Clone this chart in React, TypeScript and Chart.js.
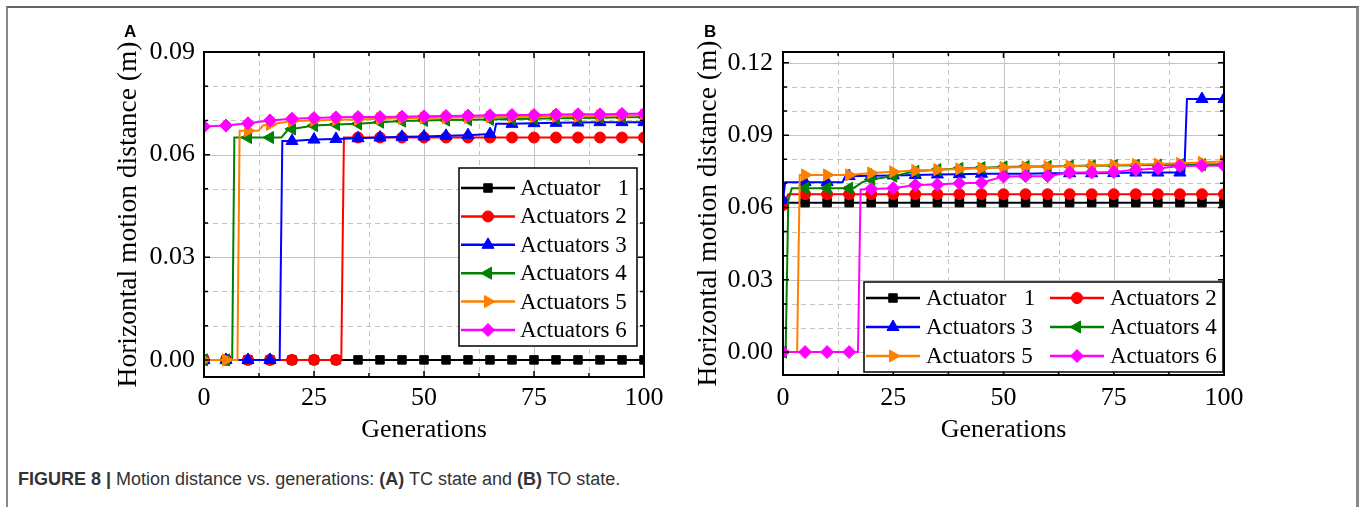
import React, { useEffect, useRef } from 'react';
import { Chart, registerables } from 'chart.js';
import { drawPoint, toFont } from 'chart.js/helpers';

Chart.register(...registerables);

// ---------------- data ----------------
const generations = [0, 5, 10, 15, 20, 25, 30, 35, 40, 45, 50, 55, 60, 65, 70, 75, 80, 85, 90, 95, 100];
const xTickLabels = [0, 25, 50, 75, 100];
const yTicksA = [0, 0.03, 0.06, 0.09];
const yTicksB = [0, 0.03, 0.06, 0.09, 0.12];
const seriesNames = ['Actuator   1', 'Actuators 2', 'Actuators 3', 'Actuators 4', 'Actuators 5', 'Actuators 6'];

// Panel A (TC state): values at the marked generations
const tcAct1 = [0, 0, 0, 0, 0, 0, 0, 0, 0, 0, 0, 0, 0, 0, 0, 0, 0, 0, 0, 0, 0];
const tcAct2 = [0, 0, 0, 0, 0, 0, 0, 0.065, 0.065, 0.065, 0.065, 0.065, 0.065, 0.065, 0.065, 0.065, 0.065, 0.065, 0.065, 0.065, 0.065];
const tcAct3 = [0, 0, 0, 0, 0.064, 0.0644, 0.0646, 0.0648, 0.065, 0.0652, 0.0653, 0.0655, 0.0657, 0.066, 0.069, 0.0692, 0.0693, 0.0694, 0.0695, 0.0695, 0.0695];
const tcAct4 = [0, 0, 0.065, 0.065, 0.0675, 0.0685, 0.0688, 0.069, 0.0695, 0.0698, 0.07, 0.0701, 0.0702, 0.0703, 0.0704, 0.0705, 0.0706, 0.0707, 0.0708, 0.0709, 0.071];
const tcAct5 = [0, 0, 0.067, 0.0688, 0.0698, 0.07, 0.0702, 0.0703, 0.0705, 0.0706, 0.0707, 0.0708, 0.0709, 0.071, 0.071, 0.0711, 0.0712, 0.0712, 0.0713, 0.0714, 0.0715];
const tcAct6 = [0.0682, 0.0685, 0.0692, 0.07, 0.0705, 0.0707, 0.0709, 0.071, 0.071, 0.0711, 0.0712, 0.0713, 0.0714, 0.0715, 0.0716, 0.0716, 0.0717, 0.0718, 0.0718, 0.0719, 0.072];
// Panel A: step corners between marked generations [generation, value]
const tcAct1Steps: [number, number][] = [];
const tcAct2Steps: [number, number][] = [[31.2, 0], [31.8, 0.065]];
const tcAct3Steps: [number, number][] = [[17.2, 0], [17.8, 0.064], [65.9, 0.066], [66.4, 0.069]];
const tcAct4Steps: [number, number][] = [[6.4, 0], [6.9, 0.065], [17.6, 0.065], [19, 0.0672]];
const tcAct5Steps: [number, number][] = [[7.6, 0], [8.1, 0.067], [12.4, 0.067], [13.4, 0.0685]];
const tcAct6Steps: [number, number][] = [];

// Panel B (TO state): values at the marked generations
const toAct1 = [0.062, 0.062, 0.062, 0.062, 0.062, 0.062, 0.062, 0.062, 0.062, 0.062, 0.062, 0.062, 0.062, 0.062, 0.062, 0.062, 0.062, 0.062, 0.062, 0.062, 0.062];
const toAct2 = [0.061, 0.0655, 0.0655, 0.0655, 0.0655, 0.0655, 0.0655, 0.0655, 0.0655, 0.0655, 0.0655, 0.0655, 0.0655, 0.0655, 0.0655, 0.0655, 0.0655, 0.0655, 0.0655, 0.0655, 0.0655];
const toAct3 = [0.063, 0.0705, 0.0705, 0.073, 0.0732, 0.0733, 0.0735, 0.0737, 0.0738, 0.074, 0.074, 0.074, 0.0742, 0.0742, 0.0742, 0.0743, 0.0745, 0.0745, 0.0745, 0.105, 0.105];
const toAct4 = [0, 0.068, 0.068, 0.068, 0.0716, 0.073, 0.075, 0.0757, 0.0762, 0.0765, 0.0768, 0.077, 0.077, 0.0772, 0.0773, 0.0774, 0.0775, 0.0776, 0.0777, 0.0778, 0.0779];
const toAct5 = [0, 0.0735, 0.0735, 0.0735, 0.0743, 0.0748, 0.0753, 0.0757, 0.076, 0.0763, 0.0766, 0.0768, 0.077, 0.0772, 0.0774, 0.0776, 0.0778, 0.078, 0.0783, 0.0787, 0.0792];
const toAct6 = [0, 0, 0, 0, 0.0677, 0.068, 0.0693, 0.0695, 0.07, 0.0703, 0.0728, 0.073, 0.073, 0.0745, 0.0745, 0.0747, 0.0757, 0.0762, 0.0772, 0.0773, 0.0773];
// Panel B: step corners
const toAct1Steps: [number, number][] = [];
const toAct2Steps: [number, number][] = [[1.2, 0.0655]];
const toAct3Steps: [number, number][] = [[0.5, 0.0705], [13.5, 0.0705], [14.2, 0.073], [91, 0.0745], [91.6, 0.105]];
const toAct4Steps: [number, number][] = [[0.6, 0], [1.2, 0.063], [2, 0.068], [16, 0.068], [18, 0.0705]];
const toAct5Steps: [number, number][] = [[3.2, 0], [3.8, 0.0735]];
const toAct6Steps: [number, number][] = [[17, 0], [17.6, 0.0675]];

// ---------------- styles ----------------
const colors = ['#000000', '#ff0000', '#0000ff', '#008000', '#ff8000', '#ff00ff'];
const markerStyles = ['rect', 'circle', 'triangle', 'triangle', 'triangle', 'rectRot'];
const markerRotations = [0, 0, 0, -90, 90, 0];
const markerRadii = [6, 5.5, 7, 7, 7, 6.5];
const SERIF = "'Liberation Serif', 'Times New Roman', serif";

type Pt = { x: number; y: number; m: boolean };
function buildSeries(vals: number[], steps: [number, number][]): Pt[] {
  const pts: Pt[] = generations.map((g, i) => ({ x: g, y: vals[i], m: true }));
  steps.forEach(([g, v]) => pts.push({ x: g, y: v, m: false }));
  pts.sort((a, b) => a.x - b.x);
  return pts;
}

function minorValues(majors: number[], div: number, lo: number, hi: number): number[] {
  const step = (majors[1] - majors[0]) / div;
  const out: number[] = [];
  for (let i = 0; i < majors.length; i++) {
    for (let k = 1; k < div; k++) {
      const v = majors[i] + k * step;
      if (v > lo && v < hi) out.push(v);
    }
  }
  return out;
}

const gridPlugin = {
  id: 'frameGrid',
  beforeDatasetsDraw(chart: any, _a: any, opts: any) {
    const { ctx, chartArea: a, scales } = chart;
    const x = scales.x, y = scales.y;
    ctx.save();
    ctx.lineWidth = 1;
    ctx.strokeStyle = '#c4c4c4';
    const vline = (v: number) => {
      const px = Math.round(x.getPixelForValue(v)) + 0.5;
      ctx.beginPath(); ctx.moveTo(px, a.top); ctx.lineTo(px, a.bottom); ctx.stroke();
    };
    const hline = (v: number) => {
      const py = Math.round(y.getPixelForValue(v)) + 0.5;
      ctx.beginPath(); ctx.moveTo(a.left, py); ctx.lineTo(a.right, py); ctx.stroke();
    };
    ctx.setLineDash([5, 4]);
    opts.xMinor.forEach(vline);
    opts.yMinor.forEach(hline);
    ctx.setLineDash([]);
    opts.xMajor.forEach(vline);
    opts.yMajor.forEach(hline);
    ctx.restore();
  },
  afterDatasetsDraw(chart: any, _a: any, opts: any) {
    const { ctx, chartArea: a, scales } = chart;
    const x = scales.x, y = scales.y;
    ctx.save();
    ctx.strokeStyle = '#000';
    ctx.lineWidth = 2;
    ctx.strokeRect(a.left, a.top, a.right - a.left, a.bottom - a.top);
    ctx.lineWidth = 1.5;
    const tickX = (v: number, len: number) => {
      const px = x.getPixelForValue(v);
      ctx.beginPath(); ctx.moveTo(px, a.bottom); ctx.lineTo(px, a.bottom - len);
      ctx.moveTo(px, a.top); ctx.lineTo(px, a.top + len); ctx.stroke();
    };
    const tickY = (v: number, len: number) => {
      const py = y.getPixelForValue(v);
      ctx.beginPath(); ctx.moveTo(a.left, py); ctx.lineTo(a.left + len, py);
      ctx.moveTo(a.right, py); ctx.lineTo(a.right - len, py); ctx.stroke();
    };
    opts.xMajor.forEach((v: number) => tickX(v, 6));
    opts.xMinor.forEach((v: number) => tickX(v, 4));
    opts.yMajor.forEach((v: number) => tickY(v, 6));
    opts.yMinor.forEach((v: number) => tickY(v, 4));

    // legend
    const L = opts.legend;
    ctx.fillStyle = '#fff';
    ctx.fillRect(L.x, L.y, L.w, L.h);
    ctx.strokeStyle = '#000';
    ctx.lineWidth = 1.5;
    ctx.strokeRect(L.x, L.y, L.w, L.h);
    const legendFont = toFont({ family: SERIF, size: 23 } as any).string;
    seriesNames.forEach((name, i) => {
      const col = i % L.cols;
      const row = Math.floor(i / L.cols);
      const cx = L.x + col * L.colW;
      const cy = L.y + L.firstRow + row * L.rowH;
      ctx.strokeStyle = colors[i];
      ctx.fillStyle = colors[i];
      ctx.lineWidth = 2.5;
      ctx.beginPath();
      ctx.moveTo(cx + L.lineStart, cy);
      ctx.lineTo(cx + L.lineStart + L.lineLen, cy);
      ctx.stroke();
      ctx.lineWidth = 1;
      drawPoint(ctx, { pointStyle: markerStyles[i], rotation: markerRotations[i], radius: markerRadii[i], borderWidth: 1 } as any,
        cx + L.lineStart + L.lineLen / 2, cy);
      ctx.fillStyle = '#000';
      ctx.font = legendFont;
      ctx.textBaseline = 'middle';
      ctx.textAlign = 'left';
      ctx.fillText(name, cx + L.textX, cy + 1);
    });
    ctx.restore();
  },
};

type PanelCfg = {
  series: number[][];
  steps: [number, number][][];
  yMin: number;
  yMax: number;
  yTicks: number[];
  area: { left: number; right: number; top: number; bottom: number };
  yTitleCenter: number;
  yLabelRight: number;
  xLabelCenter: number;
  xTitleCenter: number;
  legend: any;
};

const CW = 680;
const CH = 450;

function Panel({ cfg, left }: { cfg: PanelCfg; left: number }) {
  const ref = useRef<HTMLCanvasElement | null>(null);
  useEffect(() => {
    const font = { family: SERIF, size: 26, lineHeight: 1 };
    const titleFont = { family: SERIF, size: 27.5, lineHeight: 1 };
    const a = cfg.area;
    const xMinor = minorValues(xTickLabels, 2, 0, 100);
    const yMinor = minorValues(cfg.yTicks, 3, cfg.yMin, cfg.yMax);
    const datasets = cfg.series.map((vals, i) => ({
      label: seriesNames[i],
      data: buildSeries(vals, cfg.steps[i]),
      borderColor: colors[i],
      backgroundColor: colors[i],
      borderWidth: 2,
      tension: 0,
      pointStyle: markerStyles[i],
      pointRotation: markerRotations[i],
      pointRadius: (c: any) => (c.raw && c.raw.m ? markerRadii[i] : 0),
      pointBorderWidth: 1,
      pointBackgroundColor: colors[i],
      pointBorderColor: colors[i],
      order: 5 - i,
      clip: 0,
    }));
    const chart = new Chart(ref.current as HTMLCanvasElement, {
      type: 'line',
      data: { datasets } as any,
      plugins: [gridPlugin as any],
      options: {
        responsive: false,
        animation: false,
        devicePixelRatio: 1,
        events: [],
        layout: { padding: { left: 0, top: a.top, right: CW - a.right, bottom: 0 } },
        plugins: {
          legend: { display: false },
          tooltip: { enabled: false },
          frameGrid: { xMajor: xTickLabels, xMinor, yMajor: cfg.yTicks, yMinor, legend: cfg.legend },
        } as any,
        scales: {
          x: {
            type: 'linear',
            min: 0,
            max: 100,
            afterBuildTicks: (s: any) => { s.ticks = xTickLabels.map((v) => ({ value: v })); },
            afterFit: (s: any) => { s.height = CH - a.bottom; },
            grid: { display: false, drawTicks: false },
            border: { display: false },
            ticks: {
              font,
              color: '#000',
              padding: cfg.xLabelCenter - a.bottom - 13,
              maxRotation: 0,
              autoSkip: false,
              callback: (v: any) => String(v),
            },
            title: { display: true, text: 'Generations', font, color: '#000', padding: { top: 0, bottom: CH - cfg.xTitleCenter - 13 } },
          },
          y: {
            type: 'linear',
            min: cfg.yMin,
            max: cfg.yMax,
            afterBuildTicks: (s: any) => { s.ticks = cfg.yTicks.map((v) => ({ value: v })); },
            afterFit: (s: any) => { s.width = a.left; },
            grid: { display: false, drawTicks: false },
            border: { display: false },
            ticks: {
              font,
              color: '#000',
              padding: a.left - cfg.yLabelRight,
              callback: (v: any) => Number(v).toFixed(2),
            },
            title: { display: true, text: 'Horizontal motion distance (m)', font: titleFont, color: '#000', padding: { top: cfg.yTitleCenter - 14, bottom: 0 } },
          },
        } as any,
      },
    });
    return () => chart.destroy();
  }, []);
  return (
    <canvas
      ref={ref}
      width={CW}
      height={CH}
      style={{ position: 'absolute', left, top: 0, width: CW, height: CH }}
    />
  );
}

const panelA: PanelCfg = {
  series: [tcAct1, tcAct2, tcAct3, tcAct4, tcAct5, tcAct6],
  steps: [tcAct1Steps, tcAct2Steps, tcAct3Steps, tcAct4Steps, tcAct5Steps, tcAct6Steps],
  yMin: -0.005,
  yMax: 0.09,
  yTicks: yTicksA,
  area: { left: 204, right: 644, top: 52, bottom: 377 },
  yTitleCenter: 129,
  yLabelRight: 195,
  xLabelCenter: 398,
  xTitleCenter: 430,
  legend: { x: 459, y: 168, w: 178, h: 178, cols: 1, colW: 0, rowH: 28.4, firstRow: 20, lineStart: 2, lineLen: 54, textX: 61 },
};

const panelB: PanelCfg = {
  series: [toAct1, toAct2, toAct3, toAct4, toAct5, toAct6],
  steps: [toAct1Steps, toAct2Steps, toAct3Steps, toAct4Steps, toAct5Steps, toAct6Steps],
  yMin: -0.0095,
  yMax: 0.1245,
  yTicks: yTicksB,
  area: { left: 103, right: 544, top: 52, bottom: 375 },
  yTitleCenter: 29,
  yLabelRight: 93,
  xLabelCenter: 398,
  xTitleCenter: 430,
  legend: { x: 184, y: 282, w: 359, h: 90, cols: 2, colW: 184, rowH: 29, firstRow: 16, lineStart: 2, lineLen: 54, textX: 62 },
};

const SANS = "'Liberation Sans', Arial, sans-serif";

export default function App() {
  return (
    <div style={{ position: 'fixed', left: 0, top: 0, width: 1360, height: 507, background: '#fff', overflow: 'hidden' }}>
      <div style={{ position: 'absolute', left: 6, top: 6, width: 1348, height: 520, borderTop: '2px solid #666', borderLeft: '2px solid #888', borderRight: '3px solid #888' }} />
      <Panel cfg={panelA} left={0} />
      <Panel cfg={panelB} left={680} />
      <div style={{ position: 'absolute', left: 124, top: 22, font: `bold 17px ${SANS}`, color: '#000' }}>A</div>
      <div style={{ position: 'absolute', left: 704, top: 22, font: `bold 17px ${SANS}`, color: '#000' }}>B</div>
      <div style={{ position: 'absolute', left: 18, top: 469, font: `18px ${SANS}`, color: '#333', whiteSpace: 'nowrap' }}>
        <b>FIGURE 8 |</b> Motion distance vs. generations: <b>(A)</b> TC state and <b>(B)</b> TO state.
      </div>
    </div>
  );
}
